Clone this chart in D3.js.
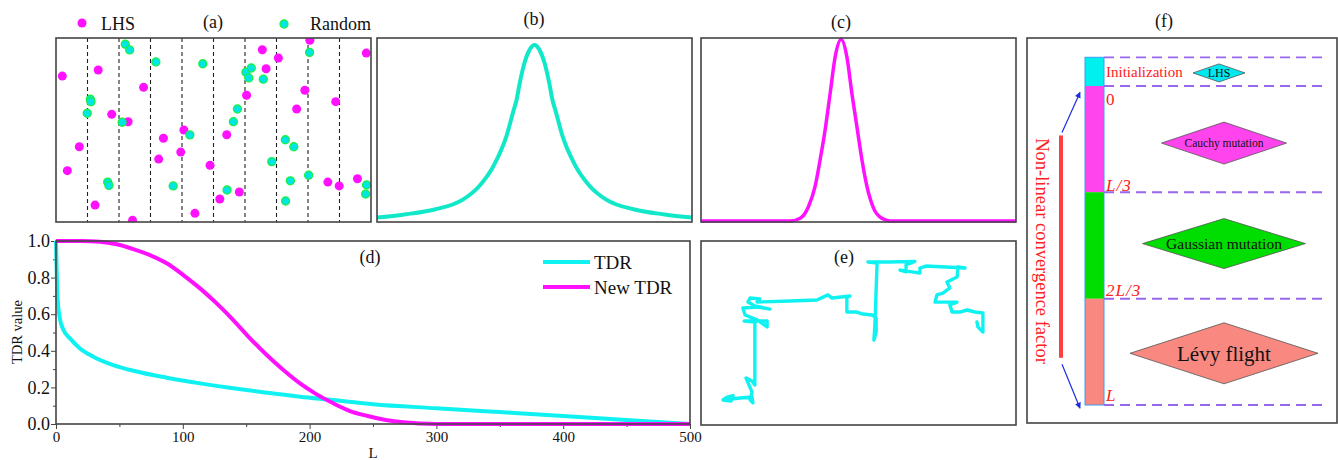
<!DOCTYPE html>
<html>
<head>
<meta charset="utf-8">
<script src="https://cdn.jsdelivr.net/npm/d3@7"></script>
<style>
  body { margin: 0; background: #fff; }
  svg text { font-family: 'Liberation Serif', 'Times New Roman', serif !important; }
</style>
</head>
<body>
<script>
// ---- data ----

// (a) sampling points: [stratum position 0..10, value 0..1]
const lhsPoints = [[0.20,0.793],[1.34,0.826],[0.36,0.279],[0.74,0.409],[1.24,0.092],[1.77,0.585],[2.29,0.545],[2.43,0.009],[2.78,0.732],[3.41,0.455],[3.26,0.342],[3.96,0.380],[4.06,0.500],[4.41,0.047],[4.89,0.308],[5.20,0.125],[5.42,0.474],[5.82,0.163],[6.05,0.689],[6.55,0.936],[6.67,0.833],[7.06,0.891],[7.64,0.614],[7.90,0.716],[8.06,0.988],[8.63,0.217],[8.88,0.654],[8.99,0.196],[9.57,0.235],[9.85,0.918]]
const randomPoints = [[2.20,0.966],[2.34,0.935],[3.17,0.870],[4.66,0.860],[1.09,0.667],[1.11,0.654],[0.99,0.591],[2.10,0.542],[4.25,0.473],[1.64,0.217],[1.68,0.199],[3.72,0.196],[5.43,0.174],[5.63,0.545],[5.76,0.614],[6.03,0.814],[6.20,0.837],[6.12,0.783],[6.58,0.776],[6.85,0.328],[7.28,0.447],[7.55,0.409],[7.44,0.224],[7.29,0.114],[8.02,0.254],[8.05,0.922],[9.86,0.201],[9.83,0.152]]
const strata = [1, 2, 3, 4, 5, 6, 7, 8, 9]

// (b) Cauchy curve
const cauchyX = [-5, -4.13, -3.17, -2.29, -1.75, -1.27, -0.89, -0.67, -0.57, -0.48, -0.32, -0.16, 0, 0.16, 0.32, 0.48, 0.57, 0.67, 0.89, 1.27, 1.75, 2.29, 3.17, 4.13, 5]
const cauchyY = [0.024, 0.041, 0.068, 0.120, 0.196, 0.315, 0.467, 0.603, 0.663, 0.745, 0.864, 0.935, 0.962, 0.935, 0.864, 0.745, 0.663, 0.603, 0.467, 0.315, 0.196, 0.120, 0.068, 0.041, 0.024]

// (c) Gaussian curve
const gaussX = [-5, -2.17, -1.85, -1.59, -1.38, -1.22, -1.06, -0.90, -0.74, -0.55, -0.37, -0.21, -0.05, 0.11, 0.27, 0.48, 0.74, 1.01, 5]
const gaussY = [0.005, 0.005, 0.02, 0.083, 0.192, 0.337, 0.5, 0.699, 0.898, 0.993, 0.898, 0.699, 0.518, 0.337, 0.192, 0.074, 0.02, 0.005, 0.005]

// (d) TDR curves
const tdrL = [0, 0.5, 1, 1.8, 3.2, 5.8, 11, 18.9, 29.4, 45.2, 61, 87.3, 113.6, 139.8, 166.2, 192.5, 218.7, 250, 300, 350, 400, 450, 500]
const tdrValue = [1.0, 0.85, 0.72, 0.64, 0.57, 0.515, 0.468, 0.413, 0.368, 0.322, 0.291, 0.253, 0.222, 0.195, 0.171, 0.149, 0.131, 0.108, 0.086, 0.065, 0.044, 0.022, 0.0]
const newTdrL = [0, 20, 34.7, 47.9, 61, 74.1, 87.3, 100.4, 113.6, 126.7, 139.8, 153, 166.2, 179.3, 192.4, 205.6, 218.7, 231.9, 245, 260, 274, 300, 400, 500]
const newTdrValue = [1.0, 1.0, 0.996, 0.982, 0.956, 0.923, 0.878, 0.814, 0.741, 0.659, 0.568, 0.468, 0.377, 0.295, 0.222, 0.162, 0.113, 0.071, 0.045, 0.022, 0.009, 0.0, 0.0, 0.0]
const lTicks = [0, 100, 200, 300, 400, 500]
const lMinor = [50, 150, 250, 350, 450]
const vTicks = [0, 0.2, 0.4, 0.6, 0.8, 1.0]
const vMinor = [0.1, 0.3, 0.5, 0.7, 0.9]
const seriesNames = ['TDR', 'New TDR']

// (e) Levy flight walk
const levyX = [7.0, 8.3, 10.2, 9.5, 7.0, 12.4, 16.2, 16.5, 15.6, 16.2, 14.3, 16.2, 17.1, 17.1, 13.7, 21.0, 21.0, 17.8, 14.0, 13.3, 17.8, 21.9, 17.1, 14.9, 15.6, 18.7, 17.8, 28.3, 36.8, 40.3, 41.6, 47.3, 46.3, 46.3, 49.5, 51.4, 54.3, 55.6, 55.6, 54.9, 55.2, 55.9, 53.0, 60.0, 67.9, 65.1, 65.1, 63.2, 67.0, 69.5, 69.5, 71.4, 77.5, 83.8, 81.6, 81.3, 78.1, 79.0, 76.8, 74.9, 74.3, 78.1, 81.3, 79.0, 79.7, 82.2, 84.4, 87.0, 89.5, 89.5, 87.9, 87.6]
const levyY = [13.6, 15.2, 16.0, 13.0, 13.6, 14.7, 15.2, 12.0, 13.6, 17.9, 25.5, 23.9, 21.7, 56.0, 56.5, 56.5, 53.3, 57.1, 59.8, 63.6, 64.1, 63.0, 64.7, 66.8, 69.0, 68.5, 66.8, 67.4, 67.9, 70.7, 69.0, 70.1, 69.6, 61.4, 61.4, 60.3, 59.8, 58.2, 50.5, 46.2, 54.3, 88.0, 88.6, 88.6, 88.9, 87.0, 83.2, 84.2, 83.2, 82.6, 85.3, 86.4, 85.9, 85.3, 85.9, 80.4, 77.7, 74.5, 71.7, 70.7, 66.8, 66.8, 66.8, 65.2, 61.4, 61.4, 62.5, 61.4, 60.9, 50.5, 53.3, 56.0]

// (f) stage scheme, in units of the iteration budget L
const stageBounds = [-0.09, 0, 0.333, 0.667, 1]
const stageLabels = ['Initialization', '0', 'L/3', '2L/3', 'L']
const stageLabelPos = [-0.045, 0.04, 0.31, 0.64, 0.97]
const operatorNames = ['LHS', 'Cauchy mutation', 'Gaussian mutation', 'Lévy flight']
const operatorPos = [-0.041, 0.179, 0.494, 0.838]

// ---- layout ----
const width = 1338
const height = 460
const cyan = '#10f2f2'
const magenta = '#ff10ff'
const frameColor = '#444'
const serif = "'Liberation Serif', 'Times New Roman', serif"

const svg = d3
  .select('body')
  .append('svg')
  .attr('width', width)
  .attr('height', height)
  .style('font-family', serif)

function frame(x0, y0, x1, y1) {
  svg
    .append('rect')
    .attr('x', x0)
    .attr('y', y0)
    .attr('width', x1 - x0)
    .attr('height', y1 - y0)
    .attr('fill', 'none')
    .attr('stroke', frameColor)
    .attr('stroke-width', 1.6)
}

function label(text, x, y, size) {
  return svg
    .append('text')
    .text(text)
    .attr('x', x)
    .attr('y', y)
    .attr('text-anchor', 'middle')
    .attr('font-size', size)
    .attr('fill', '#111')
}

const defs = svg.append('defs')

// ===== (a) LHS vs random =====
const aBox = { x0: 56, y0: 38, x1: 371, y1: 222 }
const xA = d3.scaleLinear().domain([0, 10]).range([aBox.x0, aBox.x1])
const yA = d3.scaleLinear().domain([0, 1]).range([aBox.y1, aBox.y0])

defs
  .append('clipPath')
  .attr('id', 'clip-a')
  .append('rect')
  .attr('x', aBox.x0)
  .attr('y', aBox.y0)
  .attr('width', aBox.x1 - aBox.x0)
  .attr('height', aBox.y1 - aBox.y0)

svg
  .selectAll('.strata')
  .data(strata)
  .enter()
  .append('line')
  .attr('x1', d => xA(d))
  .attr('x2', d => xA(d))
  .attr('y1', aBox.y0)
  .attr('y2', aBox.y1)
  .attr('stroke', '#222')
  .attr('stroke-width', 1.1)
  .attr('stroke-dasharray', '4,3')

const aPoints = svg.append('g').attr('clip-path', 'url(#clip-a)')
aPoints
  .selectAll('.lhs')
  .data(lhsPoints)
  .enter()
  .append('circle')
  .attr('cx', d => xA(d[0]))
  .attr('cy', d => yA(d[1]))
  .attr('r', 4.5)
  .attr('fill', magenta)

aPoints
  .selectAll('.rand')
  .data(randomPoints)
  .enter()
  .append('circle')
  .attr('cx', d => xA(d[0]))
  .attr('cy', d => yA(d[1]))
  .attr('r', 4)
  .attr('fill', '#00e6e6')
  .attr('stroke', '#19f040')
  .attr('stroke-width', 1.3)

frame(aBox.x0, aBox.y0, aBox.x1, aBox.y1)

// legend of (a)
svg.append('circle').attr('cx', 82).attr('cy', 23).attr('r', 4.5).attr('fill', magenta)
svg.append('text').text('LHS').attr('x', 101).attr('y', 29.5).attr('font-size', 18).attr('fill', '#111')
svg
  .append('circle')
  .attr('cx', 284)
  .attr('cy', 24)
  .attr('r', 4)
  .attr('fill', '#00e6e6')
  .attr('stroke', '#19f040')
  .attr('stroke-width', 1.3)
svg.append('text').text('Random').attr('x', 310).attr('y', 30).attr('font-size', 18).attr('fill', '#111')
label('(a)', 213, 27.5, 18)

// ===== (b) Cauchy =====
const bBox = { x0: 377, y0: 38, x1: 692, y1: 222 }
const xB = d3.scaleLinear().domain([-5, 5]).range([bBox.x0, bBox.x1])
const yB = d3.scaleLinear().domain([0, 1]).range([bBox.y1, bBox.y0])
const cauchyLine = d3
  .line()
  .x(d => xB(d[0]))
  .y(d => yB(d[1]))
  .curve(d3.curveMonotoneX)
svg
  .append('path')
  .datum(cauchyX.map((x, i) => [x, cauchyY[i]]))
  .attr('d', cauchyLine)
  .attr('fill', 'none')
  .attr('stroke', '#10e8c8')
  .attr('stroke-width', 4)
frame(bBox.x0, bBox.y0, bBox.x1, bBox.y1)
label('(b)', 534, 25, 18)

// ===== (c) Gaussian =====
const cBox = { x0: 701, y0: 38, x1: 1016, y1: 222 }
const xC = d3.scaleLinear().domain([-5, 5]).range([cBox.x0, cBox.x1])
const yC = d3.scaleLinear().domain([0, 1]).range([cBox.y1, cBox.y0])
const gaussLine = d3
  .line()
  .x(d => xC(d[0]))
  .y(d => yC(d[1]))
  .curve(d3.curveMonotoneX)
svg
  .append('path')
  .datum(gaussX.map((x, i) => [x, gaussY[i]]))
  .attr('d', gaussLine)
  .attr('fill', 'none')
  .attr('stroke', magenta)
  .attr('stroke-width', 3.5)
frame(cBox.x0, cBox.y0, cBox.x1, cBox.y1)
label('(c)', 841, 28, 18)

// ===== (d) TDR =====
const dBox = { x0: 56, y0: 241, x1: 690, y1: 424 }
const xD = d3.scaleLinear().domain([0, 500]).range([dBox.x0, dBox.x1])
const yD = d3.scaleLinear().domain([0, 1]).range([dBox.y1, dBox.y0])

const xAxisD = d3.axisBottom(xD).tickValues(lTicks).tickSize(5).tickPadding(2)
const xMinorD = d3.axisBottom(xD).tickValues(lMinor).tickSize(3).tickFormat('')
const yAxisD = d3.axisLeft(yD).tickValues(vTicks).tickSize(5).tickPadding(1).tickFormat(d3.format('.1f'))
const yMinorD = d3.axisLeft(yD).tickValues(vMinor).tickSize(3).tickFormat('')

svg
  .append('g')
  .attr('class', 'axis x-axis')
  .attr('transform', 'translate(0,' + dBox.y1 + ')')
  .call(xAxisD)
svg
  .append('g')
  .attr('class', 'axis x-minor')
  .attr('transform', 'translate(0,' + dBox.y1 + ')')
  .call(xMinorD)
svg
  .append('g')
  .attr('class', 'axis y-axis')
  .attr('transform', 'translate(' + dBox.x0 + ',0)')
  .call(yAxisD)
svg
  .append('g')
  .attr('class', 'axis y-minor')
  .attr('transform', 'translate(' + dBox.x0 + ',0)')
  .call(yMinorD)

svg.selectAll('.axis').attr('font-family', null).attr('font-size', null)
svg.selectAll('.axis path').remove()
svg.selectAll('.axis line').attr('stroke', frameColor)
svg
  .selectAll('.x-axis text')
  .style('font-size', '15px')
  .style('font-family', serif)
  .attr('fill', '#111')
svg
  .selectAll('.y-axis text')
  .style('font-size', '18px')
  .style('font-family', serif)
  .attr('fill', '#111')

const tdrLine = d3
  .line()
  .x(d => xD(d[0]))
  .y(d => yD(d[1]))
  .curve(d3.curveMonotoneX)

svg
  .append('path')
  .datum(tdrL.map((l, i) => [l, tdrValue[i]]))
  .attr('d', tdrLine)
  .attr('fill', 'none')
  .attr('stroke', cyan)
  .attr('stroke-width', 4)
svg
  .append('path')
  .datum(newTdrL.map((l, i) => [l, newTdrValue[i]]))
  .attr('d', tdrLine)
  .attr('fill', 'none')
  .attr('stroke', magenta)
  .attr('stroke-width', 4)

frame(dBox.x0, dBox.y0, dBox.x1, dBox.y1)

svg
  .append('text')
  .text('TDR value')
  .attr('transform', 'translate(22,332) rotate(-90)')
  .attr('text-anchor', 'middle')
  .attr('font-size', 14.5)
  .attr('fill', '#111')
svg.append('text').text('L').attr('x', 373).attr('y', 458).attr('text-anchor', 'middle').attr('font-size', 15).attr('fill', '#111')
label('(d)', 370, 263, 18)

const legendD = svg
  .selectAll('.legend-d')
  .data(seriesNames)
  .enter()
  .append('g')
  .attr('transform', (d, i) => 'translate(543,' + (262 + i * 25) + ')')
legendD
  .append('line')
  .attr('x1', 0)
  .attr('x2', 47)
  .attr('stroke', (d, i) => (i === 0 ? cyan : magenta))
  .attr('stroke-width', 4)
legendD
  .append('text')
  .text(d => d)
  .attr('x', 51)
  .attr('y', 7)
  .attr('font-size', 19)
  .attr('fill', '#111')

// ===== (e) Levy flight =====
const eBox = { x0: 701, y0: 241, x1: 1016, y1: 425 }
const xE = d3.scaleLinear().domain([0, 100]).range([eBox.x0, eBox.x1])
const yE = d3.scaleLinear().domain([0, 100]).range([eBox.y1, eBox.y0])
svg
  .append('path')
  .datum(levyX.map((x, i) => [x, levyY[i]]))
  .attr(
    'd',
    d3
      .line()
      .x(d => xE(d[0]))
      .y(d => yE(d[1]))
  )
  .attr('fill', 'none')
  .attr('stroke', cyan)
  .attr('stroke-width', 3.4)
  .attr('stroke-linejoin', 'round')
  .attr('stroke-linecap', 'round')
frame(eBox.x0, eBox.y0, eBox.x1, eBox.y1)
label('(e)', 844, 263, 18)

// ===== (f) scheme =====
const fBox = { x0: 1027, y0: 38, x1: 1337, y1: 423 }
const yF = d3.scaleLinear().domain([0, 1]).range([86, 405])
const barX = 1085
const barW = 19
const stageColors = ['#00f0f0', '#ff44ee', '#00dd00', '#f88880']
const diamondColors = ['#00e8f0', '#ff44ee', '#00dd00', '#f88880']
const diamondBox = [
  { cx: 1219, w: 52, h: 18, font: 12 },
  { cx: 1224, w: 125, h: 42, font: 11.5 },
  { cx: 1224, w: 163, h: 50, font: 15.5 },
  { cx: 1224, w: 188, h: 61, font: 21 }
]

svg
  .selectAll('.stage')
  .data(stageColors)
  .enter()
  .append('rect')
  .attr('x', barX)
  .attr('y', (d, i) => yF(stageBounds[i]))
  .attr('width', barW)
  .attr('height', (d, i) => yF(stageBounds[i + 1]) - yF(stageBounds[i]))
  .attr('fill', d => d)
svg
  .append('rect')
  .attr('x', barX)
  .attr('y', yF(stageBounds[0]))
  .attr('width', barW)
  .attr('height', yF(1) - yF(stageBounds[0]))
  .attr('fill', 'none')
  .attr('stroke', '#3a9cf0')
  .attr('stroke-width', 1)

svg
  .selectAll('.stage-line')
  .data(stageBounds)
  .enter()
  .append('line')
  .attr('x1', barX + barW)
  .attr('x2', 1327)
  .attr('y1', d => yF(d))
  .attr('y2', d => yF(d))
  .attr('stroke', '#9966ee')
  .attr('stroke-width', 1.8)
  .attr('stroke-dasharray', '10,6')

svg
  .selectAll('.stage-label')
  .data(stageLabels)
  .enter()
  .append('text')
  .text(d => d)
  .attr('x', barX + barW + 2)
  .attr('y', (d, i) => yF(stageLabelPos[i]))
  .attr('dy', '0.35em')
  .attr('font-size', (d, i) => (i === 0 ? 15 : 17))
  .attr('font-style', (d, i) => (i >= 2 ? 'italic' : 'normal'))
  .attr('letter-spacing', (d, i) => (i >= 2 ? 1 : 0))
  .attr('fill', '#ff2020')

const diamonds = svg
  .selectAll('.op')
  .data(operatorNames)
  .enter()
  .append('g')
  .attr('transform', (d, i) => 'translate(' + diamondBox[i].cx + ',' + yF(operatorPos[i]) + ')')
diamonds
  .append('path')
  .attr('d', (d, i) => {
    const w = diamondBox[i].w / 2
    const h = diamondBox[i].h / 2
    return 'M' + -w + ',0L0,' + -h + 'L' + w + ',0L0,' + h + 'Z'
  })
  .attr('fill', (d, i) => diamondColors[i])
  .attr('stroke', '#555')
  .attr('stroke-width', 0.8)
diamonds
  .append('text')
  .text(d => d)
  .attr('text-anchor', 'middle')
  .attr('dy', '0.35em')
  .attr('font-size', (d, i) => diamondBox[i].font)
  .attr('fill', '#111')

// convergence factor annotation
svg
  .append('rect')
  .attr('x', 1059)
  .attr('y', yF(0.155))
  .attr('width', 4)
  .attr('height', yF(0.852) - yF(0.155))
  .attr('fill', '#ff4040')
svg
  .append('text')
  .text('Non-linear convergence factor')
  .attr('transform', 'translate(1036,251) rotate(90)')
  .attr('text-anchor', 'middle')
  .attr('font-size', 18.5)
  .attr('fill', '#ff2020')

defs
  .append('marker')
  .attr('id', 'arrow')
  .attr('viewBox', '0 0 10 10')
  .attr('refX', 9)
  .attr('refY', 5)
  .attr('markerWidth', 8)
  .attr('markerHeight', 6)
  .attr('markerUnits', 'userSpaceOnUse')
  .attr('orient', 'auto')
  .append('path')
  .attr('d', 'M0,0L10,5L0,10Z')
  .attr('fill', '#1a2ee0')

const arrowEnds = [
  [0.146, 0.02],
  [0.872, 1.01]
]
svg
  .selectAll('.arrow')
  .data(arrowEnds)
  .enter()
  .append('line')
  .attr('x1', 1062)
  .attr('x2', 1080)
  .attr('y1', d => yF(d[0]))
  .attr('y2', d => yF(d[1]))
  .attr('stroke', '#1a2ee0')
  .attr('stroke-width', 1.2)
  .attr('marker-end', 'url(#arrow)')

frame(fBox.x0, fBox.y0, fBox.x1, fBox.y1)
label('(f)', 1164, 27, 18)
</script>
</body>
</html>
